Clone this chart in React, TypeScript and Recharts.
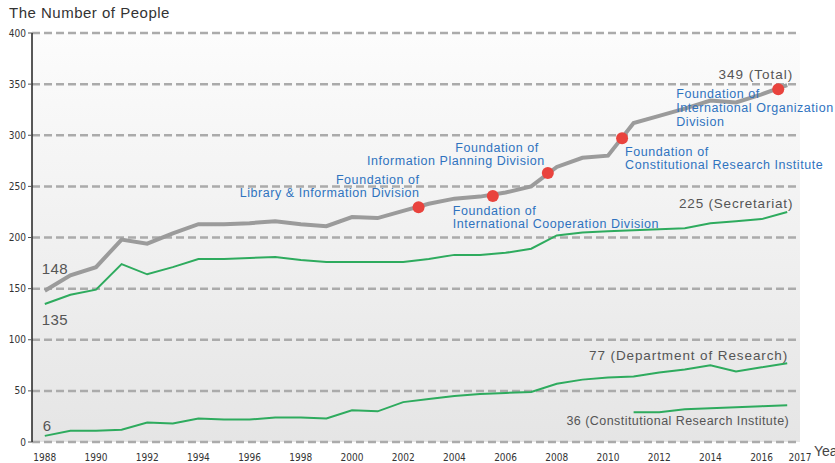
import React from 'react';
import { ComposedChart, Line, Scatter, XAxis, YAxis, CartesianGrid } from 'recharts';

// staff numbers per year
const years = [
  1988, 1989, 1990, 1991, 1992, 1993, 1994, 1995, 1996, 1997,
  1998, 1999, 2000, 2001, 2002, 2003, 2004, 2005, 2006, 2007,
  2008, 2009, 2010, 2011, 2012, 2013, 2014, 2015, 2016, 2017,
];
const total = [
  148, 163, 171, 198, 194, 204, 213, 213, 214, 216,
  213, 211, 220, 219, 226, 233, 238, 240, 244, 250,
  269, 278, 280, 312, 319, 326, 334, 332, 340, 349,
];
const secretariat = [
  135, 144, 149, 174, 164, 171, 179, 179, 180, 181,
  178, 176, 176, 176, 176, 179, 183, 183, 185, 189,
  202, 205, 206, 207, 208, 209, 214, 216, 218, 225,
];
const research = [
  6, 11, 11, 12, 19, 18, 23, 22, 22, 24,
  24, 23, 31, 30, 39, 42, 45, 47, 48, 49,
  57, 61, 63, 64, 68, 71, 75, 69, 73, 77,
];
const institute = [
  null, null, null, null, null, null, null, null, null, null,
  null, null, null, null, null, null, null, null, null, null,
  null, null, null, 29, 29, 32, 33, 34, 35, 36,
];

// red markers on the total line (new divisions)
const foundationYears = [2002.6, 2005.5, 2007.65, 2010.55, 2016.65];
const foundationValues = [229.5, 240.5, 263, 297, 345];
const foundationNames = [
  ['Foundation of', 'Library & Information Division'],
  ['Foundation of', 'International Cooperation Division'],
  ['Foundation of', 'Information Planning Division'],
  ['Foundation of', 'Constitutional Research Institute'],
  ['Foundation of', 'International Organization', 'Division'],
];

const yTicks = [0, 50, 100, 150, 200, 250, 300, 350, 400];
const xLabelTicks = [1988, 1990, 1992, 1994, 1996, 1998, 2000, 2002, 2004, 2006, 2008, 2010, 2012, 2014, 2016, 2017.5];

const data = years.map((year, i) => ({
  year,
  total: total[i],
  secretariat: secretariat[i],
  research: research[i],
  institute: institute[i],
}));

const foundations = foundationYears.map((year, i) => ({ year, value: foundationValues[i], id: i }));

const last = years.length - 1;
const seriesLabels = [
  { year: years[0], value: total[0], text: `${total[0]}` },
  { year: years[0], value: secretariat[0], text: `${secretariat[0]}` },
  { year: years[0], value: research[0], text: `${research[0]}` },
  { year: years[last], value: total[last], text: `${total[last]} (Total)` },
  { year: years[last], value: secretariat[last], text: `${secretariat[last]} (Secretariat)` },
  { year: years[last], value: research[last], text: `${research[last]} (Department of Research)` },
  { year: years[last], value: institute[last], text: `${institute[last]} (Constitutional Research Institute)` },
].map((d, id) => ({ ...d, id }));

// text placement relative to the anchor point
const noteLayout = [
  { anchor: 'end', dx: [1, 1], dy: [-23, -10] },
  { anchor: 'start', dx: [-40, -40], dy: [19, 32] },
  { anchor: 'end', dx: [-9, -3], dy: [-21, -8] },
  { anchor: 'start', dx: [3, 3], dy: [18, 31] },
  { anchor: 'start', dx: [-102, -102, -102], dy: [9, 23, 37] },
];
const labelLayout = [
  { anchor: 'start', dx: -3, dy: -17, size: 15, spacing: 0.4 },
  { anchor: 'start', dx: -3, dy: 21, size: 15, spacing: 0.4 },
  { anchor: 'start', dx: -2, dy: -5, size: 15, spacing: 0.4 },
  { anchor: 'end', dx: 6, dy: -6, size: 13.5, spacing: 1.0 },
  { anchor: 'end', dx: 6, dy: -4, size: 13.5, spacing: 0.8 },
  { anchor: 'end', dx: 1, dy: -3, size: 13.5, spacing: 0.9 },
  { anchor: 'end', dx: 2, dy: 20, size: 12.5, spacing: 0.45 },
];

const FONT = '"Liberation Sans", Arial, sans-serif';
const NARROW = '"Liberation Sans Narrow", "DejaVu Sans Condensed", sans-serif';

const FoundationDot = (props: any) => {
  const { cx, cy, payload } = props;
  const names = foundationNames[payload.id];
  const lay = noteLayout[payload.id];
  return (
    <g>
      <circle cx={cx} cy={cy} r={6} fill="#e9433d" />
      {names.map((t, i) => (
        <text
          key={i}
          x={cx + lay.dx[i]}
          y={cy + lay.dy[i]}
          textAnchor={lay.anchor}
          fontFamily={FONT}
          fontSize={12.5}
          letterSpacing={0.55}
          fill="#2f73bf"
        >
          {t}
        </text>
      ))}
    </g>
  );
};

const SeriesLabel = (props: any) => {
  const { cx, cy, payload } = props;
  const lay = labelLayout[payload.id];
  return (
    <text
      x={cx + lay.dx}
      y={cy + lay.dy}
      textAnchor={lay.anchor}
      fontFamily={FONT}
      fontSize={lay.size}
      fill="#555"
      letterSpacing={lay.spacing}
    >
      {payload.text}
    </text>
  );
};

export default function App() {
  return (
    <div style={{ position: 'absolute', left: 0, top: 0, width: 835, height: 463, overflow: 'hidden', background: '#fff' }}>
      <div style={{ position: 'absolute', left: 9, top: 4, fontFamily: FONT, fontSize: 15, color: '#333', letterSpacing: 0.5 }}>
        The Number of People
      </div>
      <div style={{ position: 'absolute', left: 814, top: 443, fontFamily: FONT, fontSize: 14, color: '#444', whiteSpace: 'nowrap' }}>
        Year
      </div>
      <ComposedChart width={835} height={463} data={data} margin={{ top: 33, right: 35, bottom: 0, left: 0 }}>
        <defs>
          <linearGradient id="bg" x1="0" y1="0" x2="0" y2="1">
            <stop offset="0%" stopColor="#fcfcfc" />
            <stop offset="100%" stopColor="#e5e5e5" />
          </linearGradient>
        </defs>
        <CartesianGrid vertical={false} fill="url(#bg)" stroke="#ababab" strokeWidth={2.5} strokeDasharray="8 4" />
        <XAxis
          dataKey="year"
          type="number"
          domain={[1987.5, 2017.5]}
          ticks={years.map((y) => y + 0.5)}
          interval={0}
          height={0}
          tick={() => <g />}
          tickSize={6}
          axisLine={{ stroke: '#222', strokeWidth: 1.5 }}
          tickLine={{ stroke: '#222', strokeWidth: 1.5 }}
        />
        <XAxis
          xAxisId="labels"
          dataKey="year"
          type="number"
          domain={[1987.5, 2017.5]}
          ticks={xLabelTicks}
          interval={0}
          height={21}
          axisLine={false}
          tickLine={false}
          tickSize={6}
          tickMargin={6}
          tickFormatter={(v: number) => String(Math.floor(v))}
          tick={{ fontSize: 10, fontFamily: NARROW, fill: '#333' }}
        />
        <YAxis
          type="number"
          domain={[0, 400]}
          ticks={yTicks}
          interval={0}
          width={32}
          tickSize={4}
          tickMargin={2}
          axisLine={{ stroke: '#222', strokeWidth: 1.5 }}
          tickLine={{ stroke: '#555' }}
          tick={{ fontSize: 10, fontFamily: NARROW, fill: '#333' }}
        />
        <Line dataKey="total" stroke="#9b9b9b" strokeWidth={4} dot={false} isAnimationActive={false} />
        <Line dataKey="secretariat" stroke="#2eab5e" strokeWidth={2} dot={false} isAnimationActive={false} />
        <Line dataKey="research" stroke="#2eab5e" strokeWidth={2} dot={false} isAnimationActive={false} />
        <Line dataKey="institute" stroke="#2eab5e" strokeWidth={2} dot={false} isAnimationActive={false} />
        <Scatter data={foundations} dataKey="value" shape={FoundationDot} isAnimationActive={false} />
        <Scatter data={seriesLabels} dataKey="value" shape={SeriesLabel} isAnimationActive={false} />
      </ComposedChart>
    </div>
  );
}
